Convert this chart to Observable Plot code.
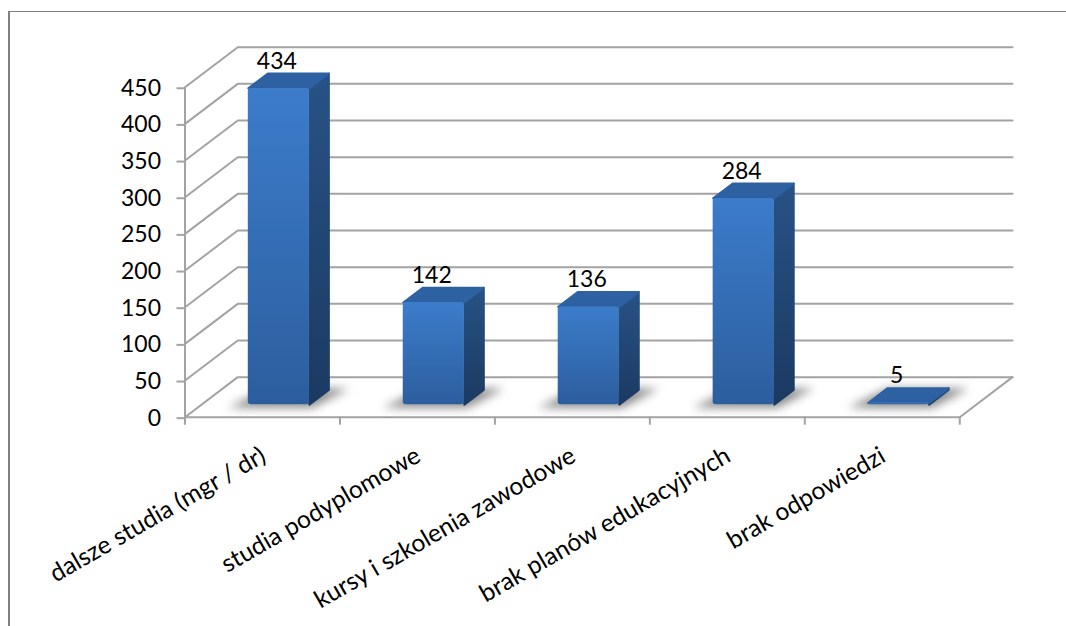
<!DOCTYPE html>
<html lang="pl">
<head>
<meta charset="utf-8">
<script src="https://cdn.jsdelivr.net/npm/d3@7"></script>
<script src="https://cdn.jsdelivr.net/npm/@observablehq/plot@0.6"></script>
<style>
html,body{margin:0;padding:0;background:#fff;overflow:hidden}
#frame{position:absolute;left:8px;top:11px;right:-4px;bottom:-4px;border-top:1.5px solid #808080;border-left:2px solid #808080;pointer-events:none}
#chart{position:absolute;left:0;top:0}
svg{display:block}
</style>
</head>
<body>
<div id="chart"></div>
<div id="frame"></div>
<script>
const categories = ["dalsze studia (mgr / dr)", "studia podyplomowe", "kursy i szkolenia zawodowe", "brak planów edukacyjnych", "brak odpowiedzi"];
const values = [434, 142, 136, 284, 5];
const yTicks = [0, 50, 100, 150, 200, 250, 300, 350, 400, 450];

// oblique projection: depth 0 = front of the box, depth 1 = back wall
const depthX = 0.3404, depthY = 54.6;
const halfBar = 0.197, barFront = 0.31, barBack = 0.68, bevel = 2.5;
const at = (cat, val, depth) => ({x: cat + depth * depthX, y: val + depth * depthY});
const n = categories.length;

const grid = yTicks.flatMap(t => [at(0, t, 0), at(0, t, 1), at(n, t, 1)].map(p => ({...p, z: t})));
const floorEdge = [at(0, 0, 0), at(n, 0, 0), at(n, 0, 1)];

const quad = (i, pts) => pts.map(p => ({...p, z: i}));
const sideFaces = values.flatMap((v, i) => { const r = i + .5 + halfBar; return quad(i, [at(r, 0, barFront), at(r, 0, barBack), at(r, v - bevel, barBack), at(r, v - bevel, barFront)]); });
const topFaces = values.flatMap((v, i) => { const c = i + .5; return quad(i, [at(c - halfBar, v - bevel, barFront), at(c + halfBar, v - bevel, barFront), at(c + halfBar, v - bevel, barBack), at(c - halfBar, v - bevel, barBack)]); });
const shadows = values.flatMap((v, i) => { const c = i + .5; return quad(i, [at(c - halfBar - .13, -4, barFront), at(c + halfBar + .02, -4, barFront), at(c + halfBar + .13, 2, barBack), at(c - halfBar, 2, barBack)]); });
const fronts = values.map((v, i) => {
  const l = at(i + .5 - halfBar, 0, barFront), r = at(i + .5 + halfBar, v - bevel, barFront);
  return {x1: l.x, x2: r.x, y1: l.y, y2: r.y};
});
const labels = values.map((v, i) => ({...at(i + .5, v, barFront), label: String(v)}));

const defs = () => d3.create("svg:defs").html(`
  <linearGradient id="front" x1="0" y1="0" x2="0" y2="1"><stop offset="0" stop-color="#3C7CCB"/><stop offset="1" stop-color="#2C5E9E"/></linearGradient>
  <linearGradient id="side" x1="0" y1="0" x2="0" y2="1"><stop offset="0" stop-color="#285285"/><stop offset="1" stop-color="#1B3A62"/></linearGradient>
`).node();

const font = "Lato, 'Open Sans', sans-serif";
const chart = Plot.plot({
  width: 1066, height: 626,
  marginLeft: 184.5, marginRight: 54, marginTop: 46.7, marginBottom: 209.3,
  style: {background: "transparent", fontFamily: font, color: "#000"},
  x: {type: "linear", domain: [0, n + depthX], axis: null},
  y: {type: "linear", domain: [0, 450 + depthY], axis: null},
  marks: [
    defs,
    Plot.line(grid, {x: "x", y: "y", z: "z", stroke: "#A3A3A3", strokeWidth: 2}),
    Plot.line(floorEdge, {x: "x", y: "y", stroke: "#A3A3A3", strokeWidth: 2}),
    Plot.ruleX([0], {y1: 0, y2: 450, stroke: "#A3A3A3", strokeWidth: 2}),
    Plot.axisX({ticks: d3.range(0, n + 1), tickFormat: () => "", tickSize: 8, stroke: "#A3A3A3", strokeWidth: 2, label: null}),
    Plot.axisX({ticks: categories.map((c, i) => i + .5), tickFormat: d => categories[d - .5], tickSize: 0, tickRotate: -30, fontSize: 24.6, dx: 1, dy: 24, label: null, textOverflow: null, lineWidth: 100}),
    Plot.axisY({ticks: yTicks, tickSize: 8, stroke: "#A3A3A3", strokeWidth: 2, fontSize: 23, tickPadding: 16, dy: 1, label: null, tickFormat: d => String(d)}),
    Plot.line(shadows, {x: "x", y: "y", z: "z", curve: "linear-closed", fill: "#8C8C8C", stroke: "none", imageFilter: "blur(5px)"}),
    Plot.line(sideFaces, {x: "x", y: "y", z: "z", curve: "linear-closed", fill: "url(#side)", stroke: "url(#side)", strokeWidth: 2, strokeLinejoin: "round"}),
    Plot.line(topFaces, {x: "x", y: "y", z: "z", curve: "linear-closed", fill: "#2D61A2", stroke: "#2D61A2", strokeWidth: 2, strokeLinejoin: "round"}),
    Plot.rect(fronts, {x1: "x1", x2: "x2", y1: "y1", y2: "y2", fill: "url(#front)", rx: 3, inset: 0}),
    Plot.text(labels, {x: "x", y: "y", text: "label", dx: -2, dy: -25, fontSize: 23, fill: "#000"})
  ]
});
document.getElementById("chart").appendChild(chart);
</script>
</body>
</html>
